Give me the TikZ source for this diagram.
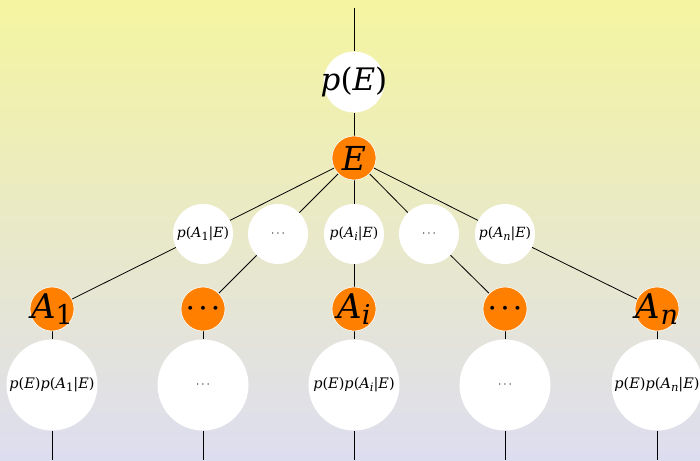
\documentclass[tikz,border=0pt]{standalone}
\usepackage{fontspec}
\setmainfont{DejaVu Serif}
\usepackage{graphicx}
\usetikzlibrary{backgrounds}
\definecolor{org}{RGB}{255,127,0}
\definecolor{bgtop}{RGB}{245,245,160}
\definecolor{bgbot}{RGB}{221,221,240}
\newcommand\lsub[1]{\raisebox{-0.35ex}{\scalebox{0.8}{#1}}}
\newcommand\vv[1]{\textit{#1}}
\newcommand\mdots{$\cdots$}
\newcommand\bdots{\boldmath$\cdots$}
\newcommand\zb[1]{\makebox[0pt]{#1}}
\tikzset{
 wsmall/.style={circle,fill=white,minimum size=60pt,inner sep=0pt,font=\fontsize{14}{16}\selectfont},
 wbig/.style={circle,fill=white,minimum size=91pt,inner sep=0pt,font=\fontsize{14.5}{16}\selectfont},
 onode/.style={circle,fill=org,draw=white,line width=0.6pt,minimum size=44pt,inner sep=0pt,font=\fontsize{34}{36}\selectfont},
 odots/.style={onode,font=\fontsize{30}{32}\selectfont},
 conn/.style={draw=black,line width=0.8pt}
}
\begin{document}
\begin{tikzpicture}[x=1pt,y=-1pt]
\useasboundingbox (0,0) rectangle (700,460);
\node[circle,fill=white,minimum size=61pt,inner sep=0pt,font=\fontsize{31}{33}\selectfont] (pE) at (354,82) {\zb{\vv{p}(\vv{E})}};
\node[onode,font=\fontsize{33}{35}\selectfont] (E) at (354,158) {\zb{\vv{E}}};
\node[wsmall] (q1) at (203,234) {\vv{p}(\vv{A}\lsub{1}|\vv{E})};
\node[wsmall] (q2) at (278,234) {\fontsize{13}{14}\selectfont\mdots};
\node[wsmall] (q3) at (354,234) {\vv{p}(\vv{A}\lsub{\vv{i}}|\vv{E})};
\node[wsmall] (q4) at (429,234) {\fontsize{13}{14}\selectfont\mdots};
\node[wsmall] (q5) at (505,234) {\vv{p}(\vv{A}\lsub{\vv{n}}|\vv{E})};
\node[onode] (a1) at (52,309) {\zb{\vv{A}\lsub{1}}};
\node[odots] (a2) at (203,309) {\zb{\bdots}};
\node[onode] (a3) at (354,309) {\zb{\vv{A}\lsub{\vv{i}}}};
\node[odots] (a4) at (505,309) {\zb{\bdots}};
\node[onode] (a5) at (657,309) {\zb{\vv{A}\lsub{\vv{n}}}};
\node[wbig] (b1) at (52,385) {\zb{\vv{p}(\vv{E})\vv{p}(\vv{A}\lsub{1}|\vv{E})}};
\node[wbig] (b2) at (203,385) {\fontsize{13}{14}\selectfont\mdots};
\node[wbig] (b3) at (354,385) {\zb{\vv{p}(\vv{E})\vv{p}(\vv{A}\lsub{\vv{i}}|\vv{E})}};
\node[wbig] (b4) at (505,385) {\fontsize{13}{14}\selectfont\mdots};
\node[wbig] (b5) at (657,385) {\zb{\vv{p}(\vv{E})\vv{p}(\vv{A}\lsub{\vv{n}}|\vv{E})}};
\coordinate (top) at (354,8);
\coordinate (e1) at (52,460);
\coordinate (e2) at (203,460);
\coordinate (e3) at (354,460);
\coordinate (e4) at (505,460);
\coordinate (e5) at (657,460);
\begin{pgfonlayer}{background}
\shade[top color=bgtop,bottom color=bgbot] (0,0) rectangle (700,460);
\draw[conn] (top) -- (pE);
\draw[conn] (pE) -- (E);
\foreach \i in {1,...,5}{
  \draw[conn] (E) -- (q\i);
  \draw[conn] (a\i) -- (b\i);
  \draw[conn] (b\i) -- (e\i);
}
\draw[conn] (q1) -- (a1);
\draw[conn] (q2) -- (a2);
\draw[conn] (q3) -- (a3);
\draw[conn] (q4) -- (a4);
\draw[conn] (q5) -- (a5);
\end{pgfonlayer}
\end{tikzpicture}
\end{document}
